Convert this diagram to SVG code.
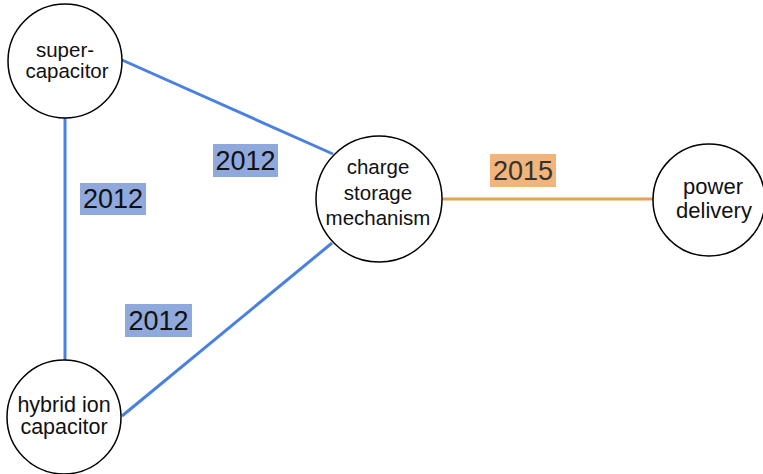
<svg xmlns="http://www.w3.org/2000/svg" width="763" height="474" viewBox="0 0 763 474">
<style>
.node circle{fill:#fff;stroke:#000;stroke-width:1.5}
.node text{font-family:"Liberation Sans",Arial,sans-serif;fill:#111;text-anchor:middle}
.blue{stroke:#4A80E0;stroke-width:3;fill:none}
.orange{stroke:#EBA04E;stroke-width:3;fill:none}
.lbl text{font-family:"Liberation Sans",Arial,sans-serif;font-size:27px;text-anchor:middle}
.lb{fill:#8FA9DC}
.lo{fill:#F2B47A}
</style>
<rect width="763" height="474" fill="#fff"/>
<g id="connectors">
<line class="blue" x1="122" y1="60" x2="333" y2="154"/>
<line class="blue" x1="65" y1="117" x2="65" y2="360"/>
<line class="blue" x1="122" y1="416" x2="332" y2="243"/>
<line class="orange" x1="442" y1="199" x2="653" y2="199"/>
<g class="lbl">
<rect class="lb" x="213" y="144" width="65" height="33"/>
<text x="245.5" y="170" fill="#111">2012</text>
<rect class="lb" x="80" y="183" width="66" height="32"/>
<text x="113" y="208" fill="#111">2012</text>
<rect class="lb" x="125" y="304" width="67" height="33"/>
<text x="158.5" y="330" fill="#111">2012</text>
<rect class="lo" x="490" y="154" width="66" height="33"/>
<text x="523" y="180" fill="#333">2015</text>
</g>
</g>
<g id="supercapacitor" class="node">
<circle cx="65" cy="61" r="57"/>
<text x="65" y="57" font-size="20.5">super-</text>
<text x="67" y="78" font-size="20.5">capacitor</text>
</g>
<g id="hybrid" class="node">
<circle cx="64" cy="417" r="57"/>
<text x="64" y="412" font-size="21.5">hybrid ion</text>
<text x="64" y="434" font-size="21.5">capacitor</text>
</g>
<g id="charge" class="node">
<circle cx="379" cy="199" r="63"/>
<text x="378" y="174" font-size="20.5">charge</text>
<text x="378" y="200" font-size="20.5">storage</text>
<text x="378" y="225" font-size="20.5">mechanism</text>
</g>
<g id="power" class="node">
<circle cx="709" cy="200" r="56"/>
<text x="713" y="194" font-size="22">power</text>
<text x="714" y="218" font-size="22">delivery</text>
</g>
</svg>
